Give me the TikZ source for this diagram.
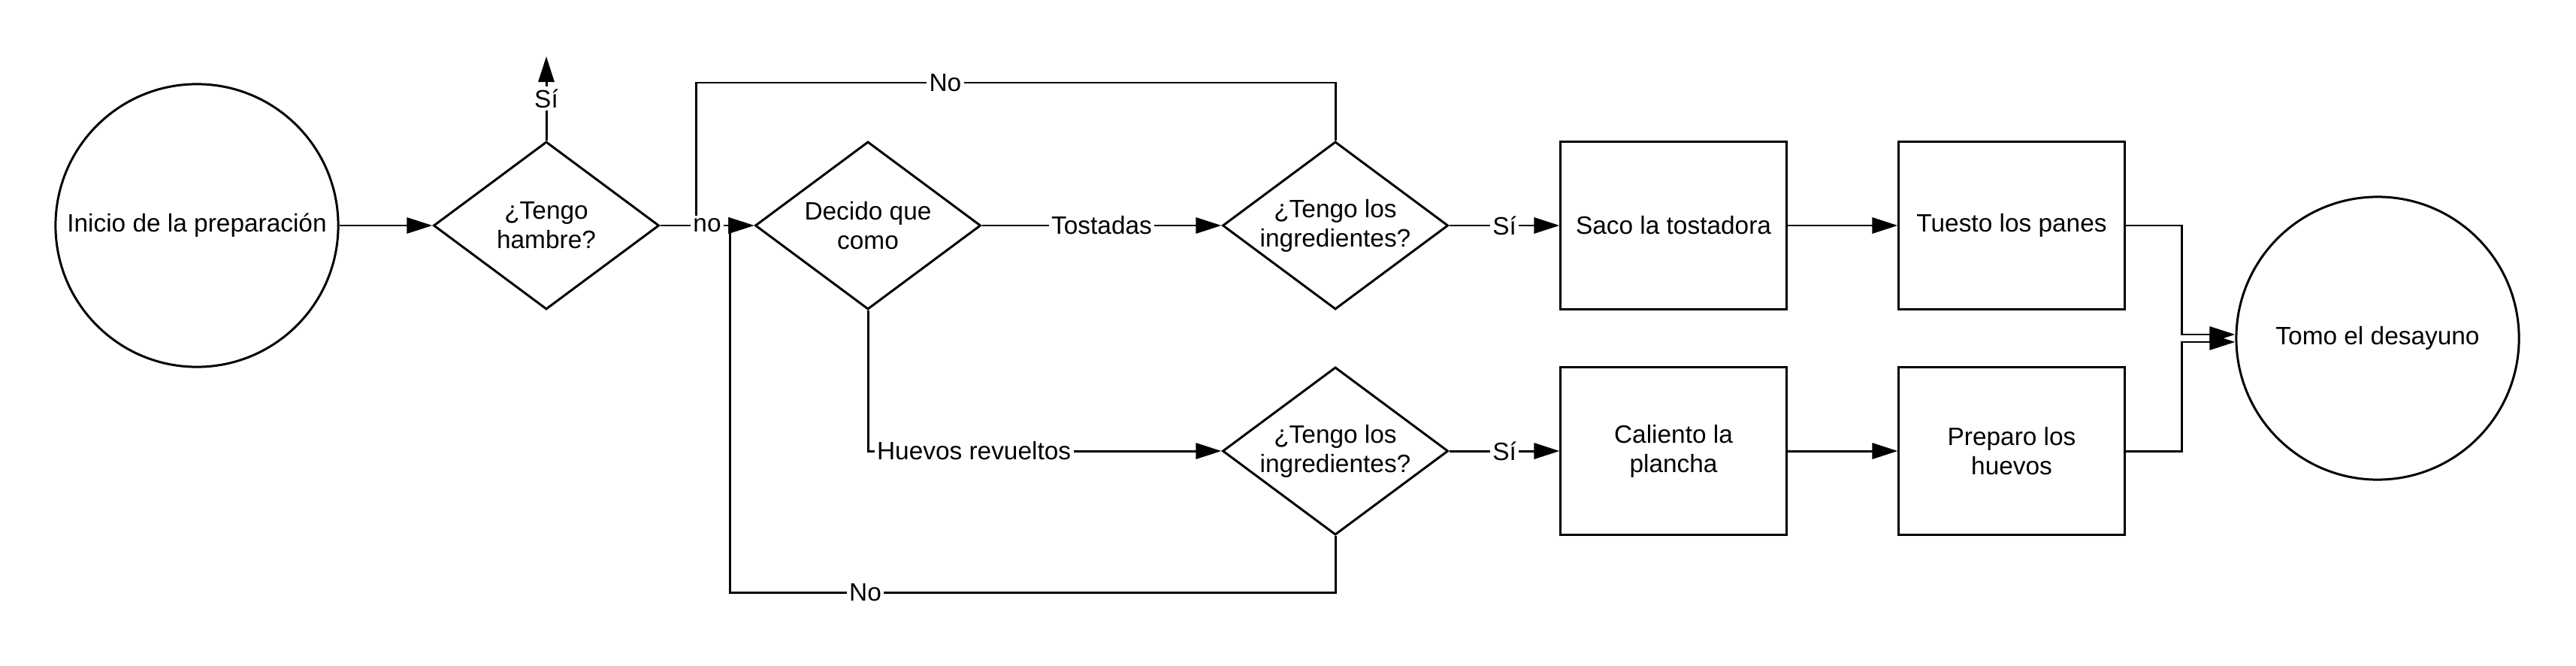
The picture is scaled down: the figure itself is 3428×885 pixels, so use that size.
\documentclass[tikz,border=0pt]{standalone}
\usepackage{fontspec}
\setmainfont{Liberation Sans}
\usetikzlibrary{shapes.geometric,arrows.meta}

\begin{document}
\begin{tikzpicture}[x=0.01cm,y=-0.01cm,line width=0.85pt,
	font=\fontsize{9.5}{11.1}\selectfont,
	terminal/.style={circle,draw,minimum size=3.76cm,inner sep=0pt},
	decision/.style={diamond,draw,aspect=1.345,minimum width=3cm,minimum height=2.23cm,inner sep=0pt,align=center},
	proceso/.style={rectangle,draw,minimum width=3cm,minimum height=2.23cm,align=center},
	etiqueta/.style={fill=white,inner sep=1pt},
	flecha/.style={-{Triangle[length=0.34cm,width=0.21cm]}}]
	% 设置画布范围
	\useasboundingbox (0,0) rectangle (3428,885);
	
	% 绘制开始和结束节点
	\node[terminal] (inicio) at (262,300) {Inicio de la preparación};
	\node[terminal] (tomo) at (3164,450) {Tomo el desayuno};
	
	% 绘制判断节点
	\node[decision] (hambre) at (727,300) {¿Tengo\\hambre?};
	\node[decision] (decido) at (1155,300) {Decido que\\como};
	\node[decision] (ingTost) at (1777,300) {¿Tengo los\\ingredientes?};
	\node[decision] (ingHuev) at (1777,600) {¿Tengo los\\ingredientes?};
	
	% 绘制步骤节点
	\node[proceso] (saco) at (2227,300) {Saco la tostadora};
	\node[proceso] (tuesto) at (2677,300) {Tuesto los panes};
	\node[proceso] (caliento) at (2227,600) {Caliento la\\plancha};
	\node[proceso] (preparo) at (2677,600) {Preparo los\\huevos};
	
	% 连线的拐点
	\coordinate (siArriba) at (727,75);
	\coordinate (esqSup) at (926,110);
	\coordinate (esqInf) at (971,788);
	\coordinate (unionT) at (2903,445);
	\coordinate (unionH) at (2903,455);
	
	% 绘制上方和下方的回路
	\draw (ingTost.north) |- node[etiqueta,pos=0.805]{No} (esqSup) -- (esqSup |- hambre.east);
	\draw[flecha] (ingHuev) |- node[etiqueta,pos=0.888]{No} (esqInf) -- (esqInf |- decido.west) -- (decido.west);
	
	% 绘制主要连线
	\draw[flecha] (inicio) -- (hambre);
	\draw[flecha] (hambre) -- node[etiqueta]{Sí} (siArriba);
	\draw[flecha] (hambre) -- node[etiqueta]{no} (decido);
	\draw[flecha] (decido) -- node[etiqueta]{Tostadas} (ingTost);
	\draw[flecha] (decido) |- node[etiqueta,pos=0.65]{Huevos revueltos} (ingHuev);
	\draw[flecha] (ingTost) -- node[etiqueta]{Sí} (saco);
	\draw[flecha] (ingHuev) -- node[etiqueta]{Sí} (caliento);
	\draw[flecha] (saco) -- (tuesto);
	\draw[flecha] (caliento) -- (preparo);
	
	% 汇合到结束节点
	\draw[flecha] (tuesto.east) -| (unionT) -- (unionT -| tomo.west);
	\draw[flecha] (preparo.east) -| (unionH) -- (unionH -| tomo.west);
\end{tikzpicture}
\end{document}
